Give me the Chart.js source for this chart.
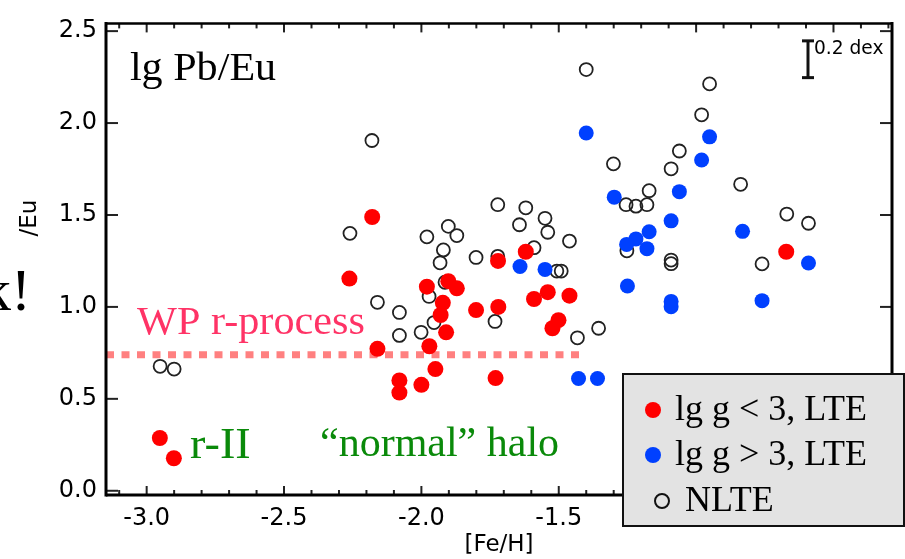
<!DOCTYPE html>
<html>
<head>
<meta charset="utf-8">
<script src="https://cdn.jsdelivr.net/npm/chart.js@4.4.1/dist/chart.umd.min.js"></script>
<style>
  html, body { margin: 0; padding: 0; background: #fff; }
  #wrap { width: 905px; height: 559px; position: relative; }
</style>
</head>
<body>
<div id="wrap"><canvas id="chart"></canvas></div>
<script>
// giants (lg g < 3, LTE): [Fe/H] and lg Pb/Eu
const giantFe = [-2.952, -2.901, -2.262, -2.179, -2.160, -2.080, -2.080, -2.000, -1.949, -1.971,
  -1.910, -1.930, -1.922, -1.980, -1.902, -1.871, -1.801, -1.720, -1.730, -1.721,
  -1.620, -1.590, -1.540, -1.461, -1.501, -1.523, -0.672];
const giantPb = [0.287, 0.177, 1.154, 1.489, 0.772, 0.600, 0.534, 0.576, 0.662, 0.786,
  0.862, 0.956, 1.022, 1.110, 1.140, 1.101, 0.983, 1.000, 0.613, 1.250,
  1.300, 1.043, 1.080, 1.061, 0.928, 0.884, 1.300];

// dwarfs (lg g > 3, LTE)
const dwarfFe = [-1.400, -0.951, -0.980, -1.298, -1.061, -1.091, -1.171, -1.219, -1.253, -1.179,
  -1.250, -1.550, -1.641, -1.428, -1.359, -0.831, -0.591, -0.760, -1.091, -1.091];
const dwarfPb = [1.946, 1.925, 1.799, 1.597, 1.627, 1.468, 1.409, 1.370, 1.340, 1.317,
  1.114, 1.204, 1.220, 0.611, 0.611, 1.411, 1.239, 1.034, 1.030, 1.001];

// NLTE values (open circles)
const nlteFe = [-2.951, -2.900, -2.260, -2.180, -2.160, -2.080, -2.080, -2.001, -1.954, -1.972,
  -1.914, -1.980, -1.902, -1.871, -1.920, -1.932, -1.801, -1.722, -1.722, -1.620,
  -1.643, -1.550, -1.540, -1.590, -1.461, -1.507, -1.491, -1.732, -1.432, -1.355,
  -1.400, -0.951, -0.980, -1.061, -1.091, -1.301, -1.171, -1.255, -1.219, -1.179,
  -1.252, -1.091, -1.091, -0.838, -0.670, -0.591, -0.760];
const nltePb = [0.677, 0.662, 1.400, 1.905, 1.025, 0.970, 0.845, 0.862, 0.915, 1.057,
  1.134, 1.381, 1.438, 1.388, 1.310, 1.240, 1.269, 1.556, 1.275, 1.539,
  1.447, 1.482, 1.406, 1.322, 1.358, 1.195, 1.195, 0.921, 0.832, 0.884,
  2.291, 2.213, 2.045, 1.848, 1.751, 1.778, 1.632, 1.556, 1.548, 1.556,
  1.305, 1.255, 1.235, 1.667, 1.505, 1.455, 1.234];

// WP r-process level and the stretch of [Fe/H] it covers
const wpLevel = 0.74;
const wpFe = [-3.148, -1.404];

const xRange = [-3.148, -0.287];
const yRange = [-0.023, 2.542];

const seriesLabels = ['lg g < 3, LTE', 'lg g > 3, LTE', 'NLTE'];

const SERIF = '"Liberation Serif", "Times New Roman", serif';
const SANS = '"DejaVu Sans", sans-serif';

function toPoints(xs, ys) {
  return xs.map((x, i) => ({ x: x, y: ys[i] }));
}

function drawText(ctx, text, x, y, font, color, sx) {
  ctx.save();
  ctx.font = font;
  ctx.fillStyle = color;
  ctx.textAlign = 'left';
  ctx.textBaseline = 'alphabetic';
  ctx.translate(x, y);
  ctx.scale(sx || 1, 1);
  ctx.fillText(text, 0, 0);
  ctx.restore();
}

function seg(ctx, x1, y1, x2, y2) {
  ctx.beginPath();
  ctx.moveTo(x1, y1);
  ctx.lineTo(x2, y2);
  ctx.stroke();
}

const framePlugin = {
  id: 'frame',
  afterDraw(chart) {
    const ctx = chart.ctx;
    const a = chart.chartArea;
    const xs = chart.scales.x;
    const ys = chart.scales.y;
    ctx.save();

    // inward ticks, minor every 0.1 on x
    ctx.strokeStyle = '#222';
    ctx.lineWidth = 2;
    for (let i = -31; i <= -3; i++) {
      const px = xs.getPixelForValue(i / 10);
      const len = i % 5 === 0 ? 9 : 5;
      seg(ctx, px, a.bottom, px, a.bottom - len);
      seg(ctx, px, a.top, px, a.top + len);
    }
    ys.ticks.forEach(t => {
      const py = ys.getPixelForValue(t.value);
      seg(ctx, a.left, py, a.left + 12, py);
      seg(ctx, a.right, py, a.right - 12, py);
    });

    // frame
    ctx.strokeStyle = '#000';
    ctx.lineWidth = 3;
    seg(ctx, a.left, a.top - 1.5, a.left, a.bottom + 1.5);
    seg(ctx, a.left, a.bottom, a.right, a.bottom);
    seg(ctx, a.right, a.top - 1.5, a.right, a.bottom + 1.5);
    ctx.lineWidth = 2.5;
    seg(ctx, a.left, a.top, a.right, a.top);

    // 0.2 dex error bar
    const ex = 808;
    const e1 = ys.getPixelForValue(2.447);
    const e2 = ys.getPixelForValue(2.247);
    ctx.lineWidth = 3;
    ctx.strokeStyle = '#111';
    seg(ctx, ex, e1, ex, e2);
    seg(ctx, ex - 6, e1, ex + 6, e1);
    seg(ctx, ex - 6, e2, ex + 6, e2);
    drawText(ctx, '0.2 dex', 814, 54, '19px ' + SANS, '#000', 0.98);

    // annotations inside the plot
    drawText(ctx, 'lg Pb/Eu', xs.getPixelForValue(-3.061), ys.getPixelForValue(2.234), '39px ' + SERIF, '#000', 1.08);
    drawText(ctx, 'WP r-process', xs.getPixelForValue(-3.035), ys.getPixelForValue(0.852), '41px ' + SERIF, '#ff3366', 1.03);
    drawText(ctx, 'r-II', xs.getPixelForValue(-2.842), ys.getPixelForValue(0.179), '44px ' + SERIF, '#0a8a0a', 1.05);
    drawText(ctx, '\u201cnormal\u201d halo', xs.getPixelForValue(-2.369), ys.getPixelForValue(0.189), '42px ' + SERIF, '#0a8a0a', 1);

    // leftovers outside the plot
    drawText(ctx, 'k!', -19, 310, '60px ' + SERIF, '#000', 1);
    ctx.save();
    ctx.translate(30, 218);
    ctx.rotate(-Math.PI / 2);
    ctx.font = '23px ' + SANS;
    ctx.fillStyle = '#000';
    ctx.textAlign = 'center';
    ctx.textBaseline = 'middle';
    ctx.fillText('/Eu', 0, 0);
    ctx.restore();

    // legend box
    const lx = 623, ly = 374, lw = 281, lh = 152;
    ctx.fillStyle = '#e3e3e3';
    ctx.fillRect(lx, ly, lw, lh);
    ctx.strokeStyle = '#111';
    ctx.lineWidth = 2;
    ctx.strokeRect(lx, ly, lw, lh);
    const ds = chart.data.datasets;
    const rows = [
      { cx: 653, cy: 410, tx: 675, ty: 420 },
      { cx: 653, cy: 455, tx: 675, ty: 465 },
      { cx: 662, cy: 501, tx: 685, ty: 511 }
    ];
    rows.forEach((r, i) => {
      const d = ds[i];
      ctx.beginPath();
      ctx.arc(r.cx, r.cy, i === 2 ? 7 : 8, 0, Math.PI * 2);
      if (i === 2) {
        ctx.lineWidth = 2;
        ctx.strokeStyle = '#111';
        ctx.stroke();
      } else {
        ctx.fillStyle = d.backgroundColor;
        ctx.fill();
      }
      drawText(ctx, d.label, r.tx, r.ty, '36px ' + SERIF, '#000', 1);
    });

    ctx.restore();
  }
};

new Chart(document.getElementById('chart'), {
  type: 'scatter',
  data: {
    datasets: [
      {
        label: seriesLabels[0],
        data: toPoints(giantFe, giantPb),
        backgroundColor: 'rgb(255, 0, 0)',
        borderWidth: 0,
        pointRadius: 8
      },
      {
        label: seriesLabels[1],
        data: toPoints(dwarfFe, dwarfPb),
        backgroundColor: 'rgb(0, 64, 255)',
        borderWidth: 0,
        pointRadius: 7.5
      },
      {
        label: seriesLabels[2],
        data: toPoints(nlteFe, nltePb),
        backgroundColor: 'rgba(0, 0, 0, 0)',
        borderColor: '#222',
        borderWidth: 1.8,
        pointRadius: 6.5
      },
      {
        label: 'WP r-process',
        data: toPoints(wpFe, [wpLevel, wpLevel]),
        showLine: true,
        borderColor: 'rgb(255, 128, 128)',
        borderWidth: 7,
        borderDash: [8, 7.5],
        borderCapStyle: 'butt',
        pointRadius: 0
      }
    ]
  },
  options: {
    responsive: true,
    maintainAspectRatio: false,
    animation: false,
    layout: { padding: { left: 0, right: 13, top: 12, bottom: 0 } },
    plugins: {
      legend: { display: false },
      tooltip: { enabled: false }
    },
    scales: {
      x: {
        type: 'linear',
        min: xRange[0],
        max: xRange[1],
        grid: { display: false, drawTicks: false },
        border: { display: false },
        ticks: {
          stepSize: 0.5,
          includeBounds: false,
          padding: 9,
          maxRotation: 0,
          autoSkip: false,
          color: '#000',
          font: { family: SANS, size: 24 },
          callback: v => v.toFixed(1)
        },
        title: {
          display: true,
          text: '[Fe/H]',
          color: '#000',
          font: { family: SANS, size: 23 },
          padding: { top: 0, bottom: 0 }
        },
        afterFit: s => { s.height = 64; }
      },
      y: {
        type: 'linear',
        min: yRange[0],
        max: yRange[1],
        grid: { display: false, drawTicks: false },
        border: { display: false },
        ticks: {
          stepSize: 0.5,
          includeBounds: false,
          padding: 9,
          color: '#000',
          font: { family: SANS, size: 24 },
          callback: v => v.toFixed(1)
        },
        afterFit: s => { s.width = 106; }
      }
    }
  },
  plugins: [framePlugin]
});
</script>
</body>
</html>
